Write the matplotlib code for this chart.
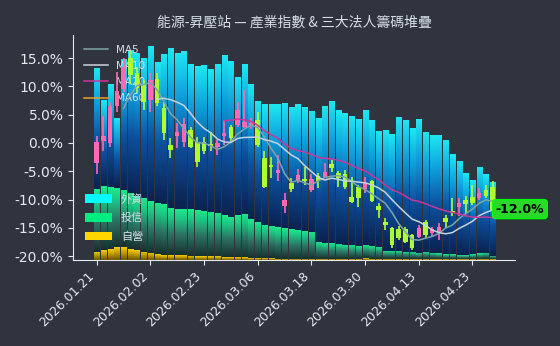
import numpy as np
import pandas as pd
import matplotlib
matplotlib.use("Agg")
import matplotlib.pyplot as plt
from matplotlib.colors import LinearSegmentedColormap
from matplotlib.patches import Patch
from matplotlib.ticker import FuncFormatter

# ---- data -------------------------------------------------------------
tick_labels = ["2026.01.21", "2026.02.02", "2026.02.23", "2026.03.06",
               "2026.03.18", "2026.03.30", "2026.04.13", "2026.04.23"]

# index change (%) per session
open_ = [-3.6, 0.4, 0.05, 6.5, 9.5, 15.0, 12.4, 10.2, 7.6, 11.4,
         6.1, -0.35, 1.24, 0.23, 2.3, 0.23, 0.23, -0.2, -0.65, 1.24,
         2.77, 3.18, 2.88, 3.06, 4.06, -2.7, -3.9, -5.35, -11.1, -7.1,
         -6.8, -6.4, -8.4, -5.8, -5.95, -3.7, -5.24, -5.5, -9.5, -7.7,
         -8.2, -6.8, -11.1, -14.0, -15.07, -15.2, -15.2, -16.25, -16.55, -14.0,
         -15.95, -15.7, -13.3, -11.96, -11.4, -10.07, -9.5, -9.65, -8.3, -7.8]
close = [0.2, 1.2, 6.5, 9.2, 13.4, 12.0, 9.7, 7.3, 11.1, 7.0,
         1.7, -1.24, 2.0, 3.3, -0.65, -3.3, -1.36, -0.5, 0.06, 1.8,
         0.83, 5.83, 3.76, 3.6, -0.35, -7.7, -4.2, -4.77, -10.1, -8.2,
         -5.65, -6.7, -6.4, -6.7, -5.07, -4.5, -6.24, -7.7, -10.4, -9.8,
         -7.0, -10.2, -11.8, -14.5, -18.0, -16.8, -17.5, -18.6, -15.07, -16.25,
         -15.25, -14.8, -13.9, -12.4, -10.65, -10.8, -10.65, -8.8, -9.36, -12.0]
high = [1.2, 4.8, 7.3, 12.6, 15.0, 16.3, 13.5, 11.1, 12.3, 12.3,
        7.3, 0.83, 3.5, 4.4, 2.8, 1.1, 1.1, 2.0, 0.5, 4.1,
        3.2, 7.3, 9.4, 4.5, 5.5, -1.5, -2.4, -2.1, -8.9, -6.2,
        -4.65, -4.2, -5.5, -5.35, -3.5, -3.0, -4.95, -4.77, -5.95, -7.4,
        -5.95, -6.5, -10.65, -13.3, -14.8, -14.7, -14.8, -16.1, -14.5, -13.7,
        -14.9, -14.2, -12.7, -9.8, -9.8, -9.4, -7.4, -8.0, -7.4, -6.8]
low = [-5.4, -1.5, -0.7, 5.5, 9.0, 10.5, 8.8, 5.8, 5.5, 6.5,
       0.5, -2.7, -0.9, -0.65, -0.9, -4.2, -1.95, -1.5, -2.1, -0.35,
       0.2, 2.9, 2.6, 2.5, -0.65, -8.0, -6.2, -6.8, -12.4, -8.6,
       -7.1, -7.4, -8.6, -8.0, -6.2, -5.07, -7.7, -8.2, -10.65, -11.25,
       -8.9, -10.4, -13.3, -15.4, -18.6, -17.1, -17.7, -18.9, -16.8, -16.8,
       -16.6, -17.1, -15.07, -12.9, -13.0, -12.3, -11.0, -10.07, -9.8, -13.3]

# institutional holdings (stacked)
foreign = [121.6, 86.0, 103.3, 70.3, 130.7, 142.7, 142.7, 140.3, 155.0, 141.0,
           150.0, 160.0, 156.6, 158.6, 145.0, 144.0, 145.7, 142.4, 149.3, 160.0,
           156.2, 138.8, 150.0, 135.5, 121.0, 121.0, 122.0, 123.0, 125.6, 122.2,
           126.0, 123.7, 121.3, 123.4, 136.7, 142.6, 134.0, 131.7, 129.0, 126.7,
           135.0, 126.0, 116.0, 120.7, 116.7, 133.4, 131.7, 123.4, 133.4, 119.4,
           117.7, 118.3, 114.0, 100.0, 94.3, 82.3, 74.0, 86.6, 78.4, 74.3]
trust = [62.4, 64.0, 62.0, 59.0, 57.3, 56.6, 54.0, 53.4, 52.0, 51.3,
         51.0, 46.7, 45.7, 45.7, 46.4, 46.0, 45.3, 44.6, 43.2, 42.0,
         40.3, 41.5, 43.5, 38.5, 36.3, 33.5, 32.5, 32.0, 30.7, 29.5,
         29.5, 28.5, 27.5, 17.8, 16.8, 16.2, 15.5, 14.5, 14.5, 13.5,
         13.5, 13.5, 12.8, 8.8, 8.8, 8.8, 7.8, 7.8, 6.3, 7.3,
         6.3, 5.7, 5.0, 5.0, 4.0, 4.0, 5.0, 5.7, 6.3, 3.5]
dealer = [8.3, 10.0, 10.7, 12.7, 12.7, 10.7, 10.0, 8.3, 7.3, 6.0,
          5.0, 5.0, 5.0, 5.0, 4.3, 4.0, 4.0, 3.7, 3.5, 3.0,
          3.0, 3.0, 2.5, 2.0, 2.0, 1.5, 1.5, 1.0, 1.0, 1.0,
          0.5, 0.5, 0.5, 0.5, 0.5, 0.5, 0.5, 0.5, 0.5, 0.5,
          1.5, 0.5, 0.5, 0.5, 0.5, 0.5, 0.5, 0.5, 1.0, 1.0,
          1.0, 1.0, 1.0, 1.0, 1.0, 1.0, 1.0, 1.0, 1.0, 0.5]
chip_labels = ["外資", "投信", "自營"]

# ---- style ------------------------------------------------------------
BG = "#2f343e"
FG = "#e5e9f0"
UP = "#ff69b4"
DOWN = "#adff2f"
MA_COLORS = {5: "#7fa3a8", 10: "#c9d3dc", 20: "#c8379a", 60: "#f0a020"}
CJK = ["Noto Sans CJK TC", "DejaVu Sans"]

plt.rcParams["font.family"] = ["DejaVu Sans"]

fig = plt.figure(figsize=(5.6, 3.46), dpi=100, facecolor=BG)
ax = fig.add_axes([0.1307, 0.2486, 0.7897, 0.6502])
ax.set_facecolor(BG)
axb = ax.twinx()
ax.set_zorder(2)
ax.patch.set_visible(False)
axb.set_zorder(1)
axb.patch.set_facecolor(BG)

n = len(close)
x = np.arange(n)
o = np.array(open_)
c = np.array(close)
h = np.array(high)
l = np.array(low)

# ---- stacked holdings with vertical gradients ---------------------------
cmaps = [
    LinearSegmentedColormap.from_list("dl", [(0, "#6a5200"), (0.5, "#b89400"), (1, "#f5cf00")]),
    LinearSegmentedColormap.from_list("tr", [(0, "#17302c"), (0.45, "#2c7464"), (0.8, "#1cc884"), (1, "#1eea8c")]),
    LinearSegmentedColormap.from_list("fg", [(0, "#0a2250"), (0.4, "#0d4f9c"), (0.72, "#0fa0dc"), (1, "#1ee8f2")]),
]
grad = np.linspace(0, 1, 128).reshape(-1, 1)
base = np.zeros(n)
for vals, cm in zip([dealer, trust, foreign], cmaps):
    v = np.array(vals)
    bars = axb.bar(x, v, bottom=base, width=0.76, color="none", linewidth=0)
    for b in bars:
        bx, by, bw, bh = b.get_x(), b.get_y(), b.get_width(), b.get_height()
        im = axb.imshow(grad, extent=[bx, bx + bw, by, by + bh], origin="lower",
                        aspect="auto", cmap=cm, interpolation="bilinear", zorder=1)
        im.set_clip_path(b)
    base = base + v

axb.set_ylim(0, 225)
axb.yaxis.set_visible(False)
for s in axb.spines.values():
    s.set_visible(False)

# ---- candles ----------------------------------------------------------
colors = np.where(c >= o, UP, DOWN)
ax.vlines(x, l, h, colors=colors, linewidth=1.2, zorder=3)
body = np.maximum(np.abs(c - o), 0.2)
ax.bar(x, body, bottom=np.minimum(o, c), width=0.68, color=colors, linewidth=0, zorder=4)

# ---- moving averages ----------------------------------------------------
ma_handles = []
for k, col in MA_COLORS.items():
    ma = pd.Series(c).rolling(k).mean()
    ln, = ax.plot(x, ma, color=col, linewidth=1.1, zorder=5, label=f"MA{k}")
    ma_handles.append(ln)

leg1 = ax.legend(handles=ma_handles, loc="upper left", bbox_to_anchor=(0.01, 0.985),
                 frameon=False, fontsize=7.5, labelcolor="#d8dee9",
                 handlelength=2.3, handletextpad=0.8, labelspacing=0.6,
                 borderaxespad=0.2)
leg1.set_zorder(2)
ax.add_artist(leg1)

chip_handles = [Patch(facecolor=fc, edgecolor="none", label=lb)
                for fc, lb in zip(["#00ffff", "#00ee80", "#ffd700"], chip_labels)]
leg2 = ax.legend(handles=chip_handles, loc="lower left", bbox_to_anchor=(0.012, 0.05),
                 frameon=False, labelcolor="#d8dee9",
                 handlelength=2.4, handleheight=0.8, handletextpad=0.8,
                 labelspacing=0.75, borderaxespad=0.2,
                 prop={"family": CJK, "size": 8})
leg2.set_zorder(6)

# ---- last close label ---------------------------------------------------
ax.annotate(f"{c[-1]:.1f}%", xy=(x[-1], c[-1]), xytext=(x[-1] + 0.45, c[-1] + 0.3),
            ha="left", va="center", fontsize=9, fontweight="bold", color="black",
            bbox=dict(boxstyle="round,pad=0.24", fc="#2ad82a", ec="#00ff00", lw=1),
            zorder=7, annotation_clip=False)

# ---- axes -------------------------------------------------------------
ax.set_xlim(-3.5, 62.4)
ax.set_ylim(-20.7, 19.1)
ax.set_yticks(np.arange(-20, 16, 5))
ax.yaxis.set_major_formatter(FuncFormatter(lambda v, p: f"{v:.1f}%"))
ax.set_xticks(np.arange(0, n, 8))
ax.set_xticklabels(tick_labels, rotation=45, ha="right")
ax.tick_params(colors=FG, labelsize=10)
ax.tick_params(axis="x", labelsize=9)
for side in ["top", "right"]:
    ax.spines[side].set_visible(False)
for side in ["left", "bottom"]:
    ax.spines[side].set_color(FG)

ax.set_title("能源-昇壓站 — 產業指數 & 三大法人籌碼堆疊", color="#d8dee9",
             fontsize=10, pad=6, family=CJK)

fig.savefig("out.png", dpi=100, facecolor=BG)
